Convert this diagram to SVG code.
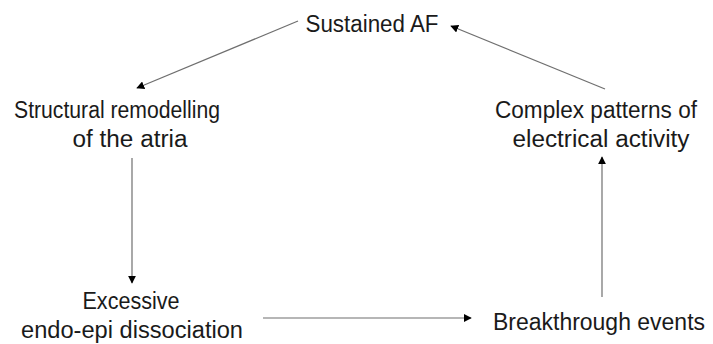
<svg xmlns="http://www.w3.org/2000/svg" width="713" height="344" viewBox="0 0 713 344">
<style>
text{font-family:"Liberation Sans","Open Sans",Arial,sans-serif;font-size:23px;fill:#1a1a1a;text-anchor:middle}
.c line{stroke:#6f6f6f;stroke-width:1.2;fill:none}
</style>
<defs>
<marker id="ah" viewBox="0 0 10 10" refX="9" refY="5" markerWidth="8" markerHeight="8" markerUnits="userSpaceOnUse" orient="auto">
<path d="M0,0 L10,5 L0,10 z" fill="#000"/>
</marker>
</defs>
<rect width="713" height="344" fill="#fff"/>
<g id="n1"><text x="372" y="32" textLength="133" lengthAdjust="spacingAndGlyphs">Sustained AF</text></g>
<g id="n2"><text x="117" y="118" textLength="206" lengthAdjust="spacingAndGlyphs">Structural remodelling</text><text x="130" y="147" textLength="115" lengthAdjust="spacingAndGlyphs">of the atria</text></g>
<g id="n3"><text x="131" y="309" textLength="97" lengthAdjust="spacingAndGlyphs">Excessive</text><text x="132" y="338" textLength="222" lengthAdjust="spacingAndGlyphs">endo-epi dissociation</text></g>
<g id="n4"><text x="599" y="330" textLength="212" lengthAdjust="spacingAndGlyphs">Breakthrough events</text></g>
<g id="n5"><text x="596" y="118" textLength="202" lengthAdjust="spacingAndGlyphs">Complex patterns of</text><text x="601" y="147" textLength="177" lengthAdjust="spacingAndGlyphs">electrical activity</text></g>
<g class="c" id="connectors">
<line x1="298" y1="21" x2="137" y2="88" marker-end="url(#ah)"/>
<line x1="132" y1="158" x2="132" y2="283" marker-end="url(#ah)"/>
<line x1="263" y1="318" x2="471" y2="318" marker-end="url(#ah)"/>
<line x1="602" y1="297" x2="602" y2="157" marker-end="url(#ah)"/>
<line x1="605" y1="89" x2="451" y2="26" marker-end="url(#ah)"/>
</g>
</svg>
